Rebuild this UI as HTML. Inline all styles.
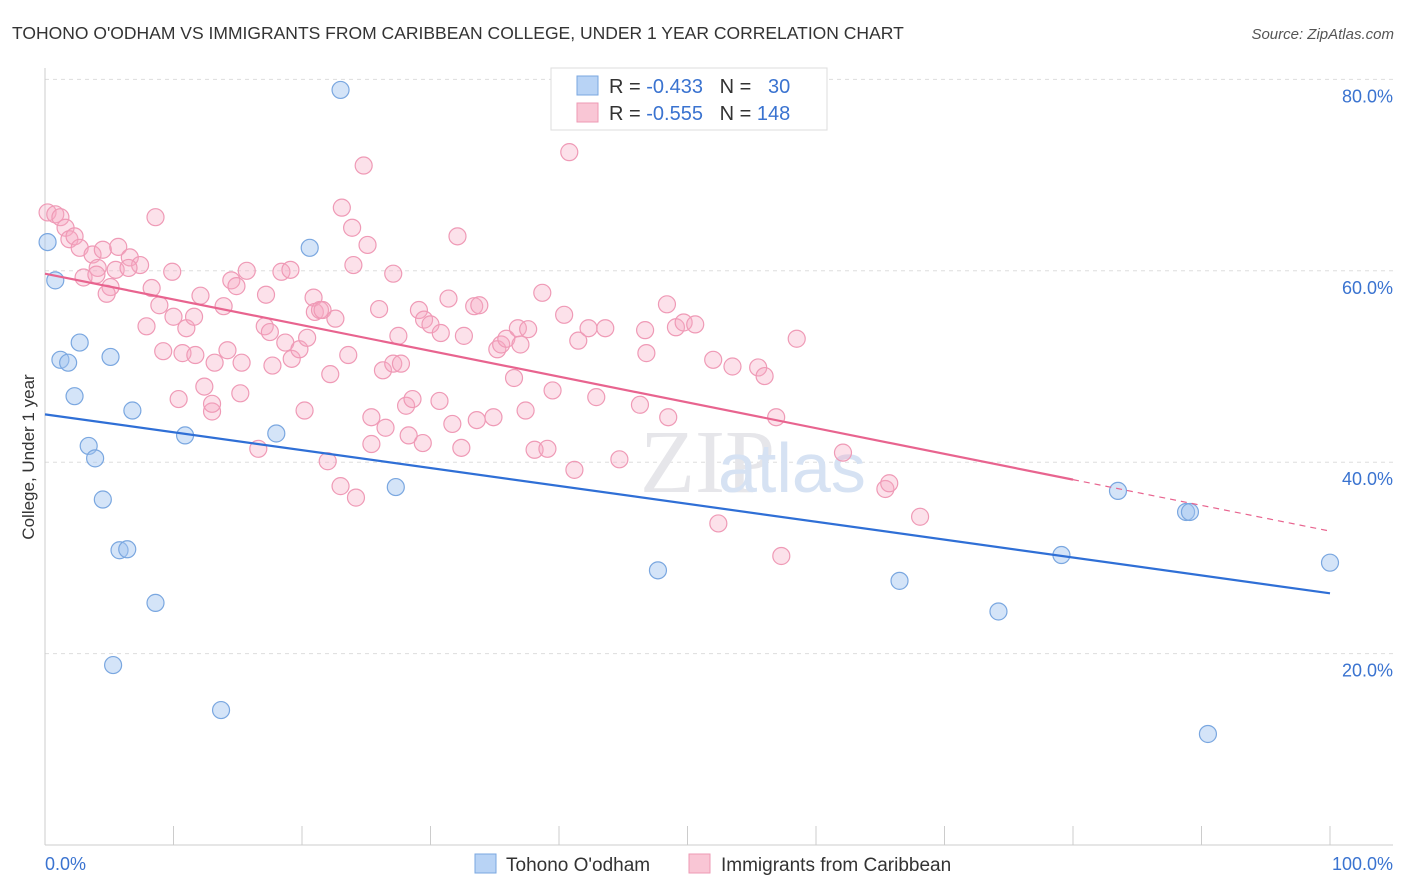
<!DOCTYPE html>
<html><head><meta charset="utf-8"><style>
body{margin:0;background:#fff;font-family:"Liberation Sans",sans-serif;}
svg{display:block}
</style></head><body>
<svg id="chart" width="1406" height="892" xmlns="http://www.w3.org/2000/svg">
<text x="12" y="39" font-size="17.5" fill="#333">TOHONO O'ODHAM VS IMMIGRANTS FROM CARIBBEAN COLLEGE, UNDER 1 YEAR CORRELATION CHART</text>
<text x="1394" y="39" font-size="15" fill="#555" font-style="italic" text-anchor="end">Source: ZipAtlas.com</text>
<text x="0" y="0" transform="translate(34,457) rotate(-90)" font-size="17" fill="#333" text-anchor="middle">College, Under 1 year</text>
<g id="grid"></g>
<g id="axes"></g>
<text x="640" y="492" font-size="90" fill="#e6e6ea" font-family="Liberation Serif,serif">ZIP</text>
<text x="718" y="492" font-size="70" fill="#d6e2f3">atlas</text>
<g id="pts"></g>
<g id="trend"></g>
<g>
<rect x="551" y="68" width="276" height="62" fill="#fff" stroke="#ddd"/>
<rect x="577" y="76" width="21" height="19" fill="#b8d3f5" stroke="#7aa7e0"/>
<rect x="577" y="103" width="21" height="19" fill="#f9c6d5" stroke="#ee9ab4"/>
<text x="609" y="93" font-size="20" fill="#333">R = <tspan fill="#3a73d0">-0.433</tspan>&#160;&#160;&#160;N = <tspan fill="#3a73d0">&#160;&#160;30</tspan></text>
<text x="609" y="120" font-size="20" fill="#333">R = <tspan fill="#3a73d0">-0.555</tspan>&#160;&#160;&#160;N = <tspan fill="#3a73d0">148</tspan></text>
</g>
<g>
<rect x="475" y="854" width="21" height="19" fill="#b8d3f5" stroke="#7aa7e0"/>
<text x="506" y="871" font-size="19" fill="#333">Tohono O'odham</text>
<rect x="689" y="854" width="21" height="19" fill="#f9c6d5" stroke="#ee9ab4"/>
<text x="721" y="871" font-size="19" fill="#333">Immigrants from Caribbean</text>
</g>
</svg>
<script>
const blueX=[23.0,0.2,0.8,20.6,2.7,1.2,1.8,5.1,2.3,6.8,10.9,18.0,3.4,3.9,4.5,27.3,5.8,6.4,8.6,5.3,13.7,47.7,66.5,74.2,79.1,83.5,88.8,89.1,100.0,90.5];
const blueY=[78.9,63.0,59.0,62.4,52.5,50.7,50.4,51.0,46.9,45.4,42.8,43.0,41.7,40.4,36.1,37.4,30.8,30.9,25.3,18.8,14.1,28.7,27.6,24.4,30.3,37.0,34.8,34.8,29.5,11.6];
const pinkX=[0.2,0.8,1.2,1.6,1.9,2.3,2.7,3.7,4.5,5.7,6.6,7.4,4.1,3.0,4.0,5.1,4.8,5.5,6.5,8.3,8.6,9.9,8.9,7.9,10.0,11.0,11.6,12.1,10.7,9.2,11.7,10.4,12.4,13.0,13.0,13.2,13.9,14.5,14.9,15.7,14.2,15.3,15.2,16.6,17.2,17.1,17.7,17.5,18.4,19.1,19.2,18.7,19.8,20.4,20.9,21.0,21.4,21.6,22.6,20.2,22.0,22.2,23.6,23.1,23.9,24.8,25.1,24.0,23.0,24.2,25.4,25.4,26.5,26.0,26.3,27.1,27.1,27.5,27.7,28.1,28.6,28.3,29.4,29.1,29.5,30.0,30.7,31.4,31.7,32.1,30.8,32.6,32.4,33.4,33.8,33.6,34.9,35.2,35.5,35.9,37.0,36.8,37.6,37.4,36.5,38.1,39.1,39.5,38.7,40.4,40.8,41.2,41.5,42.3,42.9,43.6,44.7,46.3,46.7,46.8,48.4,48.5,49.1,49.7,50.6,52.0,52.4,53.5,55.5,56.0,56.9,57.3,58.5,62.1,65.4,65.7,68.1];
const pinkY=[66.1,65.9,65.6,64.5,63.3,63.6,62.4,61.7,62.2,62.5,61.4,60.6,60.3,59.3,59.6,58.3,57.6,60.1,60.3,58.2,65.6,59.9,56.4,54.2,55.2,54.0,55.2,57.4,51.4,51.6,51.2,46.6,47.9,45.3,46.1,50.4,56.3,59.0,58.4,60.0,51.7,50.4,47.2,41.4,57.5,54.2,50.1,53.6,59.9,60.1,50.8,52.5,51.8,53.0,57.2,55.7,55.9,55.9,55.0,45.4,40.1,49.2,51.2,66.6,64.5,71.0,62.7,60.6,37.5,36.3,44.7,41.9,43.6,56.0,49.6,59.7,50.3,53.2,50.3,45.9,46.6,42.8,42.0,55.9,54.9,54.4,46.4,57.1,44.0,63.6,53.5,53.2,41.5,56.3,56.4,44.4,44.7,51.8,52.3,52.9,52.3,54.0,53.9,45.4,48.8,41.3,41.4,47.5,57.7,55.4,72.4,39.2,52.7,54.0,46.8,54.0,40.3,46.0,53.8,51.4,56.5,44.7,54.1,54.6,54.4,50.7,33.6,50.0,49.9,49.0,44.7,30.2,52.9,41.0,37.2,37.8,34.3];
const yTicks=[20,40,60,80];
const yTickLabels=["20.0%","40.0%","60.0%","80.0%"];
const xTicks=[0,10,20,30,40,50,60,70,80,90,100];
const xEndLabels=["0.0%","100.0%"];
const blueTrend=[45.0,26.3];
const pinkTrend=[59.7,32.8];
const pinkSolidEnd=80;

const NS="http://www.w3.org/2000/svg";
const sx=v=>45+v*12.85;
const sy=v=>845-v*9.57;
function mk(tag,attrs,parent){const e=document.createElementNS(NS,tag);for(const k in attrs)e.setAttribute(k,attrs[k]);parent.appendChild(e);return e;}
const grid=document.getElementById('grid'),axes=document.getElementById('axes'),pts=document.getElementById('pts'),trend=document.getElementById('trend');
yTicks.forEach((t,i)=>{
  const l=mk('line',{x1:45,x2:1393,y1:sy(t),y2:sy(t),stroke:'#ddd','stroke-dasharray':'4,4'},grid);
  
  
  const tx=mk('text',{x:1393,y:sy(t)+23,'font-size':18,fill:'#3a73d0','text-anchor':'end'},axes);
  tx.textContent=yTickLabels[i];
  
  
});
const ax1=mk('line',{x1:45,x2:45,y1:68,y2:845,stroke:'#ccc'},axes);


const ax2=mk('line',{x1:45,x2:1393,y1:845,y2:845,stroke:'#ccc'},axes);


xTicks.forEach(t=>{
  const l=mk('line',{x1:sx(t),x2:sx(t),y1:826,y2:845,stroke:'#ccc'},axes);
  
  
});
const xl0=mk('text',{x:45,y:870,'font-size':18,fill:'#3a73d0'},axes);
xl0.textContent=xEndLabels[0];


const xl1=mk('text',{x:1393,y:870,'font-size':18,fill:'#3a73d0','text-anchor':'end'},axes);
xl1.textContent=xEndLabels[1];


pinkX.forEach((x,i)=>{
  const c=mk('circle',{cx:sx(x),cy:sy(pinkY[i]),r:8.5,fill:'rgba(246,170,195,0.35)',stroke:'#ef9ab6','stroke-width':1.2},pts);
  
  
});
blueX.forEach((x,i)=>{
  const c=mk('circle',{cx:sx(x),cy:sy(blueY[i]),r:8.5,fill:'rgba(160,196,240,0.45)',stroke:'#7aa7e0','stroke-width':1.2},pts);
  
  
});
const bl=mk('line',{x1:sx(0),y1:sy(blueTrend[0]),x2:sx(100),y2:sy(blueTrend[1]),stroke:'#2f6fd6','stroke-width':2.2},trend);


const pAt=x=>pinkTrend[0]+(pinkTrend[1]-pinkTrend[0])*x/100;
const pl=mk('line',{x1:sx(0),y1:sy(pAt(0)),x2:sx(pinkSolidEnd),y2:sy(pAt(pinkSolidEnd)),stroke:'#e8648f','stroke-width':2.2},trend);


const pd=mk('line',{x1:sx(pinkSolidEnd),y1:sy(pAt(pinkSolidEnd)),x2:sx(100),y2:sy(pAt(100)),stroke:'#e8648f','stroke-width':1.2,'stroke-dasharray':'6,5'},trend);


</script>
</body></html>
